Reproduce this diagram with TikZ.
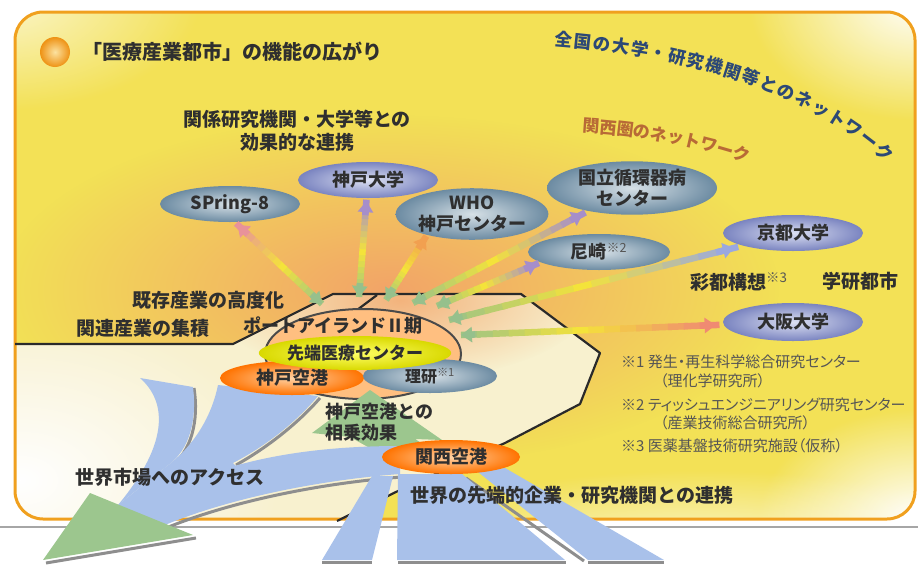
\documentclass[tikz,border=0pt]{standalone}
\usepackage{fontspec}
\setmainfont{Noto Sans CJK JP}
\usetikzlibrary{shapes.geometric,arrows.meta,calc,fadings,decorations.text}

\definecolor{txt}{HTML}{2F2F2F}
\definecolor{notegray}{HTML}{555555}
\definecolor{netblue}{HTML}{2C4876}
\definecolor{netbrown}{HTML}{B86A36}
\definecolor{framecol}{HTML}{F0A01E}
\definecolor{baseyel}{HTML}{F3E156}
\definecolor{glow}{HTML}{F2A468}
\definecolor{land}{HTML}{F8F1CF}
\definecolor{coast}{HTML}{2A2A2A}
\definecolor{bandblue}{HTML}{A9C1EA}
\definecolor{bandshadow}{HTML}{8E8E8E}
\definecolor{bandgreen}{HTML}{9CC68E}
\definecolor{arrgreen}{HTML}{96C08C}
\definecolor{arryellow}{HTML}{F4E33A}
\definecolor{farpink}{HTML}{E8929A}
\definecolor{farlilac}{HTML}{A68ECA}
\definecolor{farorange}{HTML}{F2A050}
\definecolor{farblue}{HTML}{9AA8E0}
\definecolor{farsalmon}{HTML}{F08A72}
\definecolor{gbin}{HTML}{D6E0E6}
\definecolor{gbout}{HTML}{6C8BA2}
\definecolor{lilin}{HTML}{DCE0F2}
\definecolor{lilout}{HTML}{7A84C0}
\definecolor{ballin}{HTML}{FCE2A0}
\definecolor{ballout}{HTML}{EE9214}

\tikzfading[name=softglow, inner color=transparent!0, outer color=transparent!100]

\tikzset{
  lbl/.style={inner sep=0pt, font=\fontsize{19}{23}\selectfont\bfseries, text=txt},
  note/.style={inner sep=0pt, anchor=west, font=\fontsize{15}{17}\selectfont\addfontfeature{RawFeature=+palt}, text=notegray},
  place/.style={ellipse, shade, inner sep=0pt, minimum width=140pt, minimum height=36pt,
    font=\fontsize{18}{21}\selectfont\bfseries, text=txt, align=center},
  gblue/.style={place, inner color=gbin, outer color=gbout},
  lilac/.style={place, inner color=lilin, outer color=lilout},
  airport/.style={place, inner color=orange!35!white, outer color=orange!90!red},
  lime/.style={place, inner color=yellow!60!white, outer color=yellow!70!olive},
  bandline/.style={bandshadow, line width=3pt}
}

% two-headed link, green at the hub, #3 at the far end
\newcommand\netarrow[3]{%
  \path (#1) -- (#2) coordinate[pos=0] (na) coordinate[pos=.97] (nb);
  \foreach \k in {1,...,16}{%
    \pgfmathtruncatemacro\p{\k<9 ? 12.5*\k : 12.5*(\k-8)}%
    \ifnum\k<9 \colorlet{seg}{arryellow!\p!arrgreen}\else\colorlet{seg}{#3!\p!arryellow}\fi
    \draw[seg, line width=6.5pt] ($(na)!{(\k-1)/16}!(nb)$) -- ($(na)!{\k/16+.015}!(nb)$);
  }
  \draw[arrgreen, line width=6.5pt, -{Triangle[length=11pt,width=15pt]}] ($(na)!14pt!(nb)$) -- (na);
  \draw[#3, line width=6.5pt, -{Triangle[length=11pt,width=15pt]}] ($(nb)!14pt!(na)$) -- (nb);
}
\newcommand\refmark[1]{\textsuperscript{\color{notegray}\mdseries ※#1}}

\begin{document}
\begin{tikzpicture}[x=1pt, y=-1pt]
\useasboundingbox (0,0) rectangle (918,565);

% backdrop
\begin{scope}
  \clip[rounded corners=28pt] (15,12) rectangle (915,519);
  \fill[baseyel] (0,0) rectangle (918,565);
  \fill[glow, path fading=softglow] (390,290) ellipse [x radius=390pt, y radius=175pt];
  \fill[white, path fading=softglow] (918,0) ellipse [x radius=170pt, y radius=120pt];
  \fill[white, path fading=softglow] (918,519) ellipse [x radius=160pt, y radius=110pt];
  \fill[white, path fading=softglow, opacity=.7] (0,0) ellipse [x radius=200pt, y radius=110pt];
  \fill[white, path fading=softglow, opacity=.8] (700,560) ellipse [x radius=330pt, y radius=90pt];
  % land side of the coast
  \fill[land] (15,344) -- (233,344) -- (333,294) -- (521,294) -- (600,353) -- (580,404)
    -- (505,443) -- (400,490) -- (337,521) -- (0,521) -- (0,344) -- cycle;
  \clip (15,344) -- (233,344) -- (333,294) -- (521,294) -- (600,353) -- (580,404)
    -- (505,443) -- (400,490) -- (337,521) -- (0,521) -- (0,344) -- cycle;
  \fill[glow, path fading=softglow, opacity=.8] (400,300) ellipse [x radius=190pt, y radius=80pt];
  \fill[white, path fading=softglow] (20,480) ellipse [x radius=260pt, y radius=170pt];
\end{scope}

\draw[gray!70, line width=1.2pt] (0,527) -- (918,527);
\draw[framecol, line width=3pt, rounded corners=28pt] (15,12) rectangle (915,519);

% coast
\draw[coast, line width=2.2pt, line join=round] (15,344) -- (233,344) -- (333,294) -- (521,294)
  -- (600,353) -- (580,404) -- (505,443) -- (400,490) -- (337,521);
\draw[coast, line width=2.2pt] (377,295) -- (353,313);
\draw[coast!85, line width=2pt, fill=orange!50!white] (363,354) ellipse [x radius=98pt, y radius=45pt];

% airports link
\fill[bandgreen] (370,390) -- (442,440) -- (415,439) -- (445,458) -- (395,462) -- (350,437) -- (312,433) -- cycle;

% routes to the world market
\draw[bandline] (194,388) .. controls (199,420) and (192,452) .. (169,468);
\draw[bandline] (320,398) .. controls (300,421) and (270,446) .. (236,465);
\draw[bandline] (166,528) .. controls (232,501) and (322,483) .. (402,477);
\draw[bandline] (46,563) -- (196,538);
\fill[bandblue] (140,378) .. controls (165,400) and (172,440) .. (118,505) -- (167,466)
  .. controls (190,450) and (197,420) .. (193,387) -- cycle;
\fill[bandblue] (218,385) .. controls (212,415) and (195,445) .. (167,466) -- (150,500) -- (240,470)
  -- (233,463) .. controls (268,445) and (298,420) .. (318,396) -- cycle;
\fill[bandblue] (400,446) .. controls (300,446) and (220,462) .. (150,500) -- (165,525)
  .. controls (230,498) and (320,480) .. (400,474) -- cycle;
\fill[bandblue] (118,505) -- (165,525) -- (240,470) -- (167,466) -- cycle;
\fill[bandgreen] (43,560) -- (90,493) -- (193,535) -- cycle;

% routes from Kansai airport
\draw[bandline] (322,562) -- (372,562);
\draw[bandline] (398,562) -- (566,562);
\draw[bandline] (466,478) -- (584,561);
\draw[bandline] (588,562) -- (664,562);
\fill[bandblue] (372,476) -- (393,476) -- (372,560) -- (322,560) -- cycle;
\fill[bandblue] (398,474) -- (462,474) -- (565,560) -- (397,560) -- cycle;
\fill[bandblue] (478,472) -- (505,468) -- (664,560) -- (588,560) -- cycle;

% partners
\node[gblue] (spring) at (230,204) {SPring-8};
\node[lilac] (kobeu) at (368,180) {神戸大学};
\node[gblue, minimum width=146pt, minimum height=46pt] (who) at (472,214) {WHO\\神戸センター};
\node[gblue, minimum width=170pt, minimum height=46pt] (ncvc) at (632,188) {国立循環器病\\センター};
\node[gblue, minimum width=142pt] (amagasaki) at (599,252) {尼崎\refmark{2}};
\node[lilac] (kyoto) at (793,233) {京都大学};
\node[lilac, minimum height=38pt] (osaka) at (793,322) {大阪大学};

% Port Island
\node[airport, minimum width=144pt, minimum height=34pt] (kobeap) at (292,378) {神戸空港};
\node[gblue, minimum width=134pt, minimum height=34pt, font=\fontsize{16}{18}\selectfont\bfseries] (riken) at (430,376) {理研\refmark{1}};
\node[lime, minimum width=170pt, minimum height=34pt, font=\fontsize{17}{19}\selectfont\bfseries] (sentan) at (355,353) {先端医療センター};
\node[airport, minimum width=138pt, minimum height=34pt] (kansai) at (451,457) {関西空港};

\coordinate (hs) at (322,304);
\coordinate (hk) at (359,297);
\coordinate (hw) at (386,300);
\coordinate (hn) at (413,303);
\coordinate (ha) at (437,306);
\coordinate (hy) at (449,320);
\coordinate (ho) at (461,335);
\netarrow{hs}{spring.285}{farpink}
\netarrow{hk}{kobeu}{farlilac}
\netarrow{hw}{who.205}{farorange}
\netarrow{hn}{ncvc}{farlilac}
\netarrow{ha}{amagasaki.190}{farlilac}
\netarrow{hy}{kyoto}{farblue}
\netarrow{ho}{osaka}{farsalmon}

% texts
\shade[inner color=ballin, outer color=ballout] (55,52) circle (15pt);
\node[lbl, anchor=west, font=\fontsize{20}{22}\selectfont\bfseries] (title) at (82,52) {「医療産業都市」の機能の広がり};
\node[lbl, align=center] (kankei) at (297,131) {関係研究機関・大学等との\\効果的な連携};
\path[decorate, decoration={text along path, raise=-6pt, text color=netblue, text align={fit to path},
  text={|\fontsize{17.5}{18}\selectfont\bfseries|全国の大学・研究機関等とのネットワーク}}]
  (555,40) .. controls (690,50) and (810,85) .. (890,158);
\path[decorate, decoration={text along path, raise=-6pt, text color=netbrown,
  text={|\fontsize{17}{17}\selectfont\bfseries|関西圏のネットワーク}}]
  (583,126) .. controls (650,130) and (720,143) .. (785,171);
\node[lbl, anchor=east] (kizon) at (285,300) {既存産業の高度化};
\node[lbl] (kanren) at (143,328) {関連産業の集積};
\node[lbl, font=\fontsize{18}{20}\selectfont\bfseries] (port) at (333,326) {ポートアイランドⅡ期};
\node[lbl, anchor=west, align=left, font=\fontsize{18}{21}\selectfont\bfseries] (sojo) at (325,422) {神戸空港との\\相乗効果};
\node[lbl, anchor=west] (saito) at (690,282) {彩都構想\refmark{3}};
\node[lbl] (gakken) at (860,281) {学研都市};
\node[lbl] (access) at (170,477) {世界市場へのアクセス};
\node[lbl] (renkei) at (572,495) {世界の先端的企業・研究機関との連携};

\node[note] (n1) at (621,362) {※1 発生・再生科学総合研究センター};
\node[note] (n1b) at (660,381) {（理化学研究所）};
\node[note] (n2) at (621,405) {※2 ティッシュエンジニアリング研究センター};
\node[note] (n2b) at (660,423) {（産業技術総合研究所）};
\node[note] (n3) at (621,446) {※3 医薬基盤技術研究施設（仮称）};
\end{tikzpicture}
\end{document}
